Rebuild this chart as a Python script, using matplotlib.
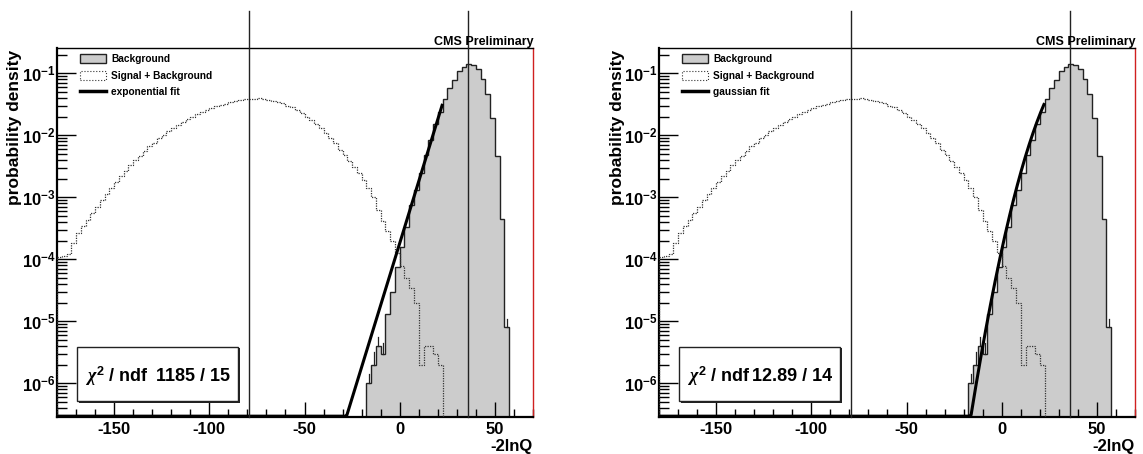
import numpy as np
import matplotlib
matplotlib.use('Agg')
import matplotlib.pyplot as plt
from matplotlib.ticker import FixedLocator, LogLocator, MultipleLocator, NullFormatter, FuncFormatter
from matplotlib.patches import Rectangle, Patch
from matplotlib.lines import Line2D

plt.rcParams['font.family'] = ['Liberation Sans', 'DejaVu Sans']
plt.rcParams['font.weight'] = 'bold'
plt.rcParams['mathtext.fontset'] = 'custom'
plt.rcParams['mathtext.rm'] = 'Liberation Sans:bold'
plt.rcParams['mathtext.bf'] = 'Liberation Sans:bold'
plt.rcParams['mathtext.it'] = 'Liberation Serif:italic'
plt.rcParams['axes.unicode_minus'] = False

# binning of the -2lnQ histograms
bin_width = 2.5
sb_first_edge = -180.0
bg_first_edge = -17.5

# signal + background, log10 of probability per bin
sb_log = [-3.97, -3.95, -3.92, -3.73, -3.58, -3.47, -3.36, -3.26, -3.15, -3.05,
          -2.95, -2.85, -2.75, -2.66, -2.57, -2.48, -2.40, -2.33, -2.25, -2.18,
          -2.12, -2.05, -1.99, -1.93, -1.88, -1.83, -1.78, -1.74, -1.70, -1.66,
          -1.62, -1.59, -1.56, -1.53, -1.51, -1.49, -1.47, -1.45, -1.43, -1.42,
          -1.41, -1.41, -1.40, -1.42, -1.43, -1.44, -1.46, -1.48, -1.52, -1.55,
          -1.59, -1.64, -1.70, -1.75, -1.81, -1.88, -1.96, -2.04, -2.13, -2.23,
          -2.32, -2.41, -2.51, -2.60, -2.72, -2.85, -3.00, -3.20, -3.38, -3.55,
          -3.70, -3.89, -4.10, -4.30, -4.47, -4.71, -5.70, -5.40, -5.40, -5.52,
          -5.70]

# background only, log10 of probability per bin
bg_log = [-6.00, -5.70, -5.40, -5.52, -4.88, -4.53, -4.12, -3.80, -3.48, -3.13,
          -2.88, -2.60, -2.32, -2.08, -1.82, -1.63, -1.42, -1.24, -1.10, -0.96,
          -0.89, -0.855, -0.866, -0.935, -1.09, -1.33, -1.72, -2.33, -3.35, -5.09]

# visible upper error bars on the sparse background bins
err_x = [-16.25, -13.75, -11.25, -8.75, 56.25]
err_top_log = [-5.85, -5.50, -5.25, -5.35, -4.97]

# medians drawn as vertical lines
median_sb = -79.0
median_bg = 35.7

# fits
expo_p0, expo_p1 = -8.61, 0.230
gaus_norm, gaus_mean, gaus_sigma = 0.204, 45.0, 11.8
fit_xmax = 22.5

panels = [
    {'fit': 'expo', 'fit_label': 'exponential fit', 'chi2': '1185 / 15'},
    {'fit': 'gaus', 'fit_label': 'gaussian fit', 'chi2': '12.89 / 14'},
]

ymin, ymax = 2.9e-7, 0.259
xmin, xmax = -180, 70

sb_vals = np.power(10.0, sb_log)
sb_edges = sb_first_edge + bin_width * np.arange(len(sb_vals) + 1)
bg_vals = np.power(10.0, bg_log)
bg_edges = bg_first_edge + bin_width * np.arange(len(bg_vals) + 1)

fig = plt.figure(figsize=(11.43, 4.54), dpi=100)
W, H = 1143.0, 454.0
ax_boxes = [(57, 533), (659, 1135)]
top_px, bot_px = 47.7, 416.7


def ylab(v, pos):
    e = int(round(np.log10(v)))
    return r'$\mathbf{10^{%d}}$' % e


for p, (l_px, r_px) in zip(panels, ax_boxes):
    ax = fig.add_axes([l_px / W, 1 - bot_px / H, (r_px - l_px) / W, (bot_px - top_px) / H])
    ax.set_yscale('log')
    ax.set_xlim(xmin, xmax)
    ax.set_ylim(ymin, ymax)

    ax.stairs(bg_vals, bg_edges, baseline=ymin, fill=True, color='#cccccc', zorder=1)
    ax.stairs(bg_vals, bg_edges, baseline=ymin, color='#222222', lw=1.0, zorder=2)
    for xe, te, v in zip(err_x, err_top_log, bg_vals[((np.array(err_x) - bg_first_edge) // bin_width).astype(int)]):
        ax.plot([xe, xe], [v, 10 ** te], color='#222222', lw=0.9, zorder=2)
    ax.stairs(sb_vals, sb_edges, baseline=ymin, color='#333333', lw=0.9,
              linestyle=(0, (1, 1)), zorder=3)

    xf = np.linspace(xmin, fit_xmax, 400)
    if p['fit'] == 'expo':
        yf = np.exp(expo_p0 + expo_p1 * xf)
    else:
        yf = gaus_norm * np.exp(-0.5 * ((xf - gaus_mean) / gaus_sigma) ** 2)
    yf = np.maximum(yf, ymin * 1.02)
    ax.plot(xf, yf, color='black', lw=2.2, zorder=4, solid_capstyle='butt')

    for xm in (median_sb, median_bg):
        ax.plot([xm, xm], [ymin, 1.0], color='#222222', lw=1.0, clip_on=False, zorder=5)

    ax.yaxis.set_major_locator(FixedLocator([1e-6, 1e-5, 1e-4, 1e-3, 1e-2, 1e-1]))
    ax.yaxis.set_minor_locator(LogLocator(base=10, subs=np.arange(2, 10)))
    ax.yaxis.set_major_formatter(FuncFormatter(ylab))
    ax.yaxis.set_minor_formatter(NullFormatter())
    ax.xaxis.set_major_locator(MultipleLocator(50))
    ax.xaxis.set_minor_locator(MultipleLocator(10))
    ax.tick_params(axis='y', which='major', direction='in', length=14, width=1, labelsize=12, pad=1)
    ax.tick_params(axis='y', which='minor', direction='in', length=7, width=1)
    ax.tick_params(axis='x', which='major', direction='in', length=11, width=1, labelsize=12, pad=4)
    ax.tick_params(axis='x', which='minor', direction='in', length=6, width=1)
    for lab in ax.get_xticklabels():
        lab.set_fontweight('bold')

    ax.spines['left'].set_linewidth(1.6)
    ax.spines['bottom'].set_linewidth(1.6)
    ax.spines['top'].set_linewidth(1.0)
    ax.spines['right'].set_linewidth(1.0)
    ax.spines['right'].set_color('#d02020')

    handles = [Patch(facecolor='#cccccc', edgecolor='#222222', lw=1),
               Patch(facecolor='white', edgecolor='#333333', lw=0.8, linestyle=':'),
               Line2D([], [], color='black', lw=2.5)]
    ax.legend(handles, ['Background', 'Signal + Background', p['fit_label']],
              loc='upper left', bbox_to_anchor=(0.048, 0.982), frameon=False,
              borderpad=0, borderaxespad=0, prop={'size': 7.3, 'weight': 'bold'},
              handlelength=2.6, handleheight=0.95, labelspacing=0.62, handletextpad=0.5)

    # chi2 box with shadow
    bx0, bx1, by0, by1 = 0.042, 0.380, 0.042, 0.190
    ax.add_patch(Rectangle((bx0 + 0.004, by0 - 0.005), bx1 - bx0, by1 - by0,
                           transform=ax.transAxes, facecolor='#222222', edgecolor='none', zorder=6))
    ax.add_patch(Rectangle((bx0, by0), bx1 - bx0, by1 - by0, transform=ax.transAxes,
                           facecolor='white', edgecolor='#222222', lw=1, zorder=7))
    ax.text(bx0 + 0.016, 0.110, r'$\chi^{2}$ / ndf', transform=ax.transAxes,
            ha='left', va='center', fontsize=13, fontweight='bold', zorder=8)
    ax.text(bx1 - 0.016, 0.110, p['chi2'], transform=ax.transAxes,
            ha='right', va='center', fontsize=13, fontweight='bold', zorder=8)

    fig.text((l_px - 42) / W, 1 - 50 / H, 'probability density', rotation=90,
             ha='center', va='top', fontsize=12.5, fontweight='bold')
    fig.text(r_px / W, 1 - 451 / H, '-2lnQ', ha='right', va='baseline', fontsize=12, fontweight='bold')
    fig.text((r_px + 1) / W, 1 - 45 / H, 'CMS Preliminary', ha='right', va='baseline',
             fontsize=9, fontweight='bold')

fig.savefig('out.png', dpi=100)
